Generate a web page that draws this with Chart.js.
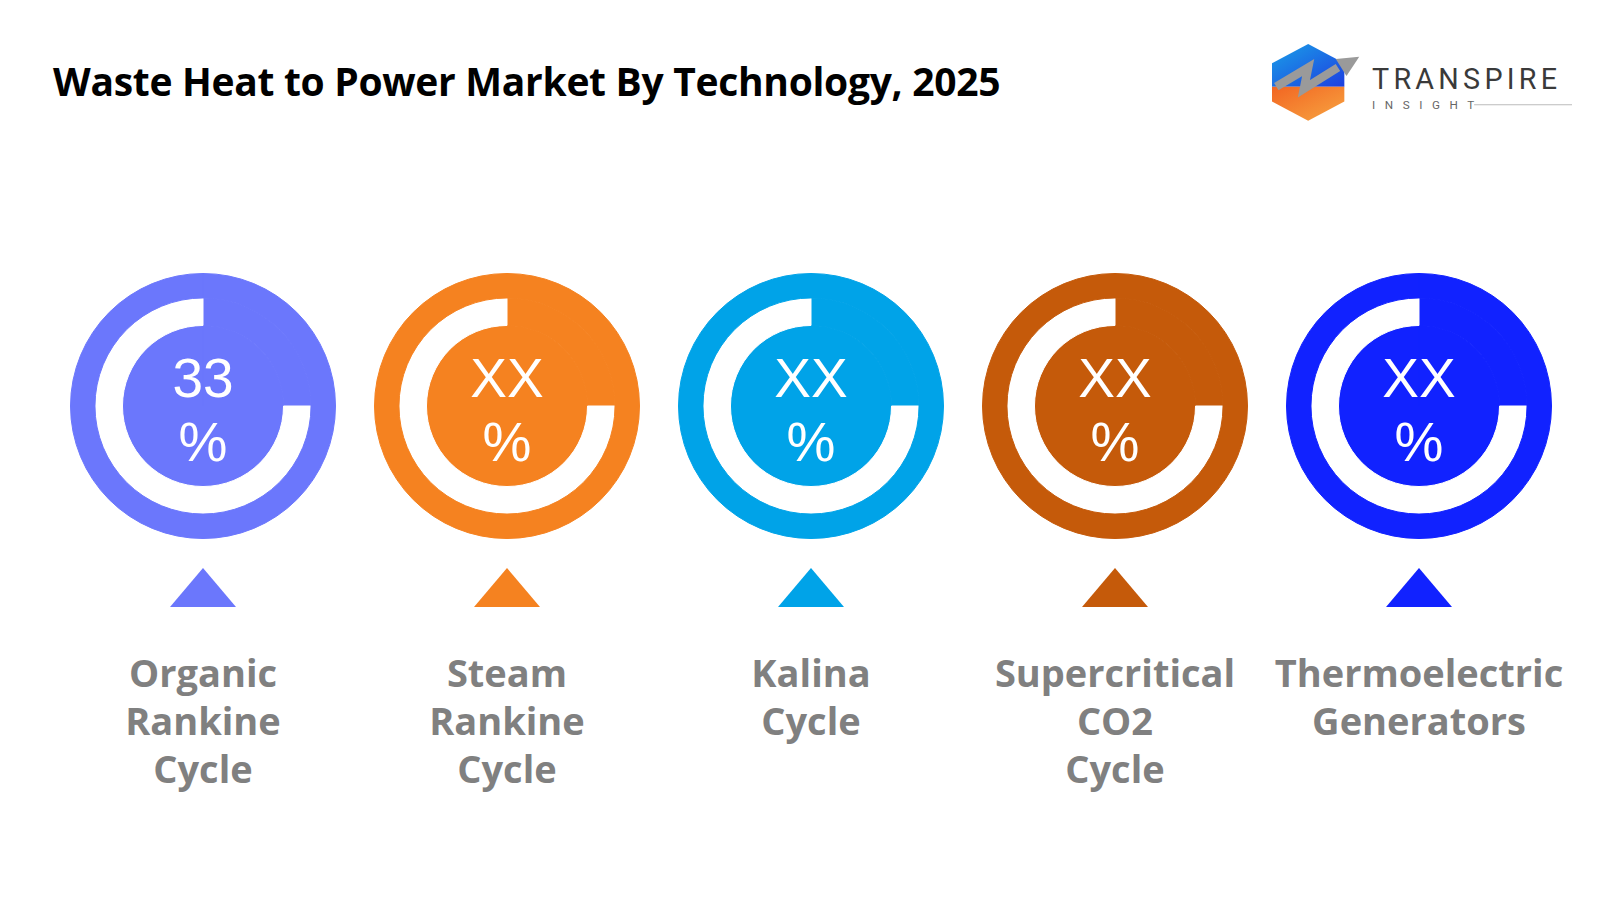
<!DOCTYPE html>
<html><head><meta charset="utf-8">
<script src="https://cdn.jsdelivr.net/npm/chart.js"></script>
<style>
body{margin:0;width:1600px;height:900px;background:#fff;position:relative;overflow:hidden;font-family:"Open Sans","Noto Sans",sans-serif}
#title{position:absolute;left:53px;top:54px;font-size:39px;font-weight:700;color:#000;letter-spacing:-0.3px}
canvas.c{position:absolute}
.val{position:absolute;width:200px;text-align:center;color:#fff;font-family:"Liberation Sans",Arial,sans-serif;font-size:55px;line-height:64px}
.tri{position:absolute;width:0;height:0;border-left:33px solid transparent;border-right:33px solid transparent;border-bottom:39px solid}
.lab{position:absolute;width:320px;text-align:center;color:#808080;font-weight:700;font-size:38px;line-height:48px}
#logo{position:absolute;left:1272px;top:44px}
</style></head><body>
<div id="title">Waste Heat to Power Market By Technology, 2025</div>
<svg id="logo" width="300" height="80" viewBox="0 0 282 75">
<defs><linearGradient id="gb" x1="0" y1="0" x2="1" y2="1"><stop offset="0" stop-color="#1aa0e8"/><stop offset="1" stop-color="#1d3fe0"/></linearGradient>
<linearGradient id="go" x1="0" y1="0" x2="1" y2="1"><stop offset="0" stop-color="#f26522"/><stop offset="1" stop-color="#f7a541"/></linearGradient></defs>
<polygon points="34,0 68,18 68,40 0,40 0,18" fill="url(#gb)"/>
<polygon points="0,40 68,40 68,54 34,72 0,54" fill="url(#go)"/>
<polyline points="4,40 34,22 30,42 62,22" fill="none" stroke="#9a9a9a" stroke-width="8"/>
<polygon points="82,12 60,14 70,30" fill="#9a9a9a"/>
<text x="94" y="42" font-family="Roboto,sans-serif" font-size="27" letter-spacing="4" fill="#3a3a3a">TRANSPIRE</text>
<text x="94" y="61" font-family="Roboto,sans-serif" font-size="11" letter-spacing="9" fill="#666">INSIGHT</text>
<line x1="190" y1="57" x2="282" y2="57" stroke="#bbb" stroke-width="1"/>
</svg>
<script>
const categories=[["Organic","Rankine","Cycle"],["Steam","Rankine","Cycle"],["Kalina","Cycle"],["Supercritical","CO2","Cycle"],["Thermoelectric","Generators"]];
const valueLabels=["33","XX","XX","XX","XX"];
const arcShare=[75,75,75,75,75];
const colors=["#6b77fc","#f58220","#00a3e8","#c55a0a","#1122ff"];
const centers=[203,507,811,1115,1419];
categories.forEach((cat,i)=>{
  const cx=centers[i],cy=406,S=286;
  const cv=document.createElement('canvas');cv.className='c';cv.width=S;cv.height=S;
  cv.style.left=(cx-S/2)+'px';cv.style.top=(cy-S/2)+'px';document.body.appendChild(cv);
  const c=colors[i];
  new Chart(cv,{type:'doughnut',data:{datasets:[
    {data:[100],backgroundColor:[c],borderColor:[c],borderWidth:1,weight:24},
    {data:[100-arcShare[i],arcShare[i]],backgroundColor:[c,'#ffffff'],borderColor:[c,'#ffffff'],borderWidth:1,weight:27},
    {data:[100],backgroundColor:[c],borderColor:[c],borderWidth:1,weight:79}]},
    options:{responsive:false,animation:false,cutout:0,layout:{padding:10},plugins:{legend:{display:false},tooltip:{enabled:false}},events:[]}});
  const v=document.createElement('div');v.className='val';v.style.left=(cx-100)+'px';v.style.top='346px';
  v.innerHTML=valueLabels[i]+'<br>%';document.body.appendChild(v);
  const t=document.createElement('div');t.className='tri';t.style.left=(cx-33)+'px';t.style.top='568px';t.style.borderBottomColor=c;document.body.appendChild(t);
  const l=document.createElement('div');l.className='lab';l.style.left=(cx-160)+'px';l.style.top='648px';l.innerHTML=cat.join('<br>');document.body.appendChild(l);
});
</script></body></html>
